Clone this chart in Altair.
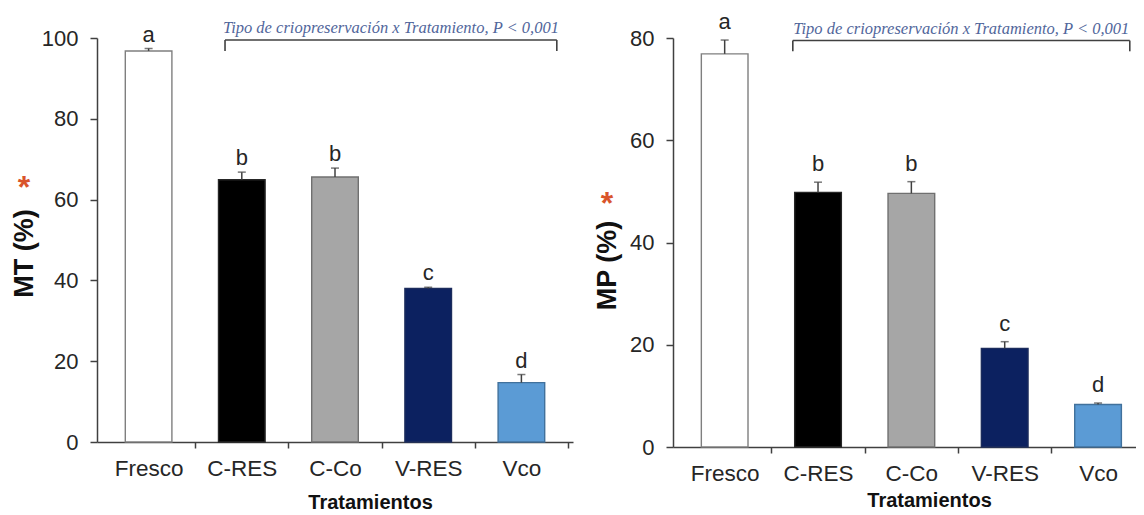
import json
import altair as alt
import pandas as pd

# ---------------- data ----------------
categories = ["Fresco", "C-RES", "C-Co", "V-RES", "Vco"]
bar_colors = ["#ffffff", "#000000", "#a6a6a6", "#0c2160", "#5b9bd5"]
stroke_colors = ["#7f7f7f", "#262626", "#707070", "#1c2c5c", "#41719c"]

mt_values = [96.8, 64.9, 65.6, 38.0, 14.7]
mt_errors = [0.6, 1.9, 2.2, 0.3, 2.0]
mt_letters = ["a", "b", "b", "c", "d"]

mp_values = [76.9, 49.8, 49.6, 19.3, 8.3]
mp_errors = [2.7, 2.0, 2.3, 1.3, 0.3]
mp_letters = ["a", "b", "b", "c", "d"]

mt_ticks = [0, 20, 40, 60, 80, 100]
mp_ticks = [0, 20, 40, 60, 80]

annotation = "Tipo de criopreservación x Tratamiento, P < 0,001"
x_title = "Tratamientos"

FONT = "Liberation Sans"
AXIS_COL = "#404040"
TEXT_COL = "#262626"

label_expr = json.dumps(categories) + "[floor(datum.value)]"
label_values = [i + 0.5 for i in range(len(categories))]


def panel(values, errors, letters, ymax, yticks, ytitle, width, height, xmax,
          br_start, br_end, br_top, br_leg, title_x, title_y, star_x, star_y,
          xtitle_x, xtitle_y, letter_dy):
    df = pd.DataFrame({
        "cat": categories,
        "idx": list(range(len(categories))),
        "val": values,
        "err": errors,
        "letter": letters,
    })
    xs = alt.Scale(domain=[0, xmax], nice=False, zero=False)
    ys = alt.Scale(domain=[0, ymax], nice=False, zero=True)

    base = alt.Chart(df).transform_calculate(
        lo="datum.idx + 0.25",
        hi="datum.idx + 0.75",
        mid="datum.idx + 0.5",
        top="datum.val + datum.err",
        zero="0",
    )

    tick_values = [i for i in range(1, len(categories) + 1) if i <= xmax]

    y_axis = alt.Axis(
        orient="left", values=yticks, tickSize=7, labelPadding=12, grid=False,
        domain=True, labels=True, ticks=True, labelFontSize=22,
        title=ytitle, titleFontSize=27, titleFontWeight="bold",
        titleAngle=270, titleX=title_x, titleY=title_y,
        titleAlign="center", titleBaseline="middle", titleColor="#111111")

    bars = base.mark_bar(strokeWidth=1.4, orient="vertical").encode(
        x=alt.X("lo:Q", scale=xs, axis=alt.Axis(
            orient="bottom", values=tick_values, labels=False, ticks=True,
            tickSize=6, domain=True, grid=False, title=None)),
        x2="hi:Q",
        y=alt.Y("val:Q", scale=ys, axis=y_axis),
        y2="zero:Q",
        fill=alt.Fill("cat:N", scale=alt.Scale(domain=categories, range=bar_colors), legend=None),
        stroke=alt.Stroke("cat:N", scale=alt.Scale(domain=categories, range=stroke_colors), legend=None),
    )

    err = base.mark_rule(color=AXIS_COL, strokeWidth=1.5).encode(
        x=alt.X("mid:Q", scale=xs, axis=None),
        y=alt.Y("val:Q", scale=ys, axis=None),
        y2="top:Q",
    )
    caps = base.mark_tick(orient="horizontal", size=8, thickness=1.5, color=AXIS_COL).encode(
        x=alt.X("mid:Q", scale=xs, axis=None),
        y=alt.Y("top:Q", scale=ys, axis=None),
    )

    letters_layer = base.mark_text(
        font=FONT, fontSize=22, baseline="alphabetic", dy=-letter_dy, color=TEXT_COL
    ).encode(
        x=alt.X("mid:Q", scale=xs, axis=alt.Axis(
            orient="bottom", values=label_values, labelExpr=label_expr,
            ticks=False, tickSize=0, domain=False, grid=False, labelPadding=15,
            labelFlush=False, labelOverlap=False, labelFontSize=22.5,
            title=x_title, titleFontSize=20, titleFontWeight="bold",
            titleX=xtitle_x, titleY=xtitle_y, titleAlign="center",
            titleBaseline="middle", titleColor="#111111")),
        y=alt.Y("top:Q", scale=ys, axis=None),
        text="letter:N",
    )

    bracket_df = pd.DataFrame({
        "x": [br_start, br_start, br_end],
        "x2": [br_end, br_start, br_end],
        "y": [br_top, br_top, br_top],
        "y2": [br_top, br_leg, br_leg],
    })
    bracket = alt.Chart(bracket_df).mark_rule(color=AXIS_COL, strokeWidth=1.6).encode(
        x=alt.X("x:Q", scale=xs, axis=None),
        x2="x2:Q",
        y=alt.Y("y:Q", scale=ys, axis=None),
        y2="y2:Q",
    )

    ann_df = pd.DataFrame({"x": [(br_start + br_end) / 2], "y": [br_top], "t": [annotation]})
    ann = alt.Chart(ann_df).mark_text(
        font="Liberation Serif", fontStyle="italic", fontSize=16.5,
        color="#51669b", baseline="middle", dy=-12,
    ).encode(
        x=alt.X("x:Q", scale=xs, axis=None),
        y=alt.Y("y:Q", scale=ys, axis=None),
        text="t:N",
    )

    star = alt.Chart(pd.DataFrame({"t": ["*"]})).mark_text(
        font=FONT, fontSize=32, fontWeight="bold", color="#d9542b", baseline="middle",
    ).encode(x=alt.value(star_x), y=alt.value(star_y), text="t:N")

    return alt.layer(bars, err, caps, letters_layer, bracket, ann, star).resolve_axis(
        x="independent", y="independent"
    ).properties(width=width, height=height)


left = panel(mt_values, mt_errors, mt_letters, 100, mt_ticks, "MT (%)",
             476, 404, 5.0, 1.32, 4.88, 99.5, 96.8,
             -73, 215, -73, 150, 273, 60, 7)
right = panel(mp_values, mp_errors, mp_letters, 80, mp_ticks, "MP (%)",
              463, 409, 4.853, 1.23, 4.84, 79.5, 77.4,
              -66, 227, -66, 166, 256, 53, 11)

chart = alt.hconcat(left, right, spacing=100, bounds="flush").properties(
    padding={"left": 2, "top": 3, "right": 0, "bottom": 0}
).configure_axis(
    labelFont=FONT, labelFontSize=21, labelColor=TEXT_COL,
    titleFont=FONT, domainColor=AXIS_COL, tickColor=AXIS_COL,
    domainWidth=1.5, tickWidth=1.5,
).configure_view(stroke=None)

chart.save("out.html", embed_options={"renderer": "svg", "actions": False})
